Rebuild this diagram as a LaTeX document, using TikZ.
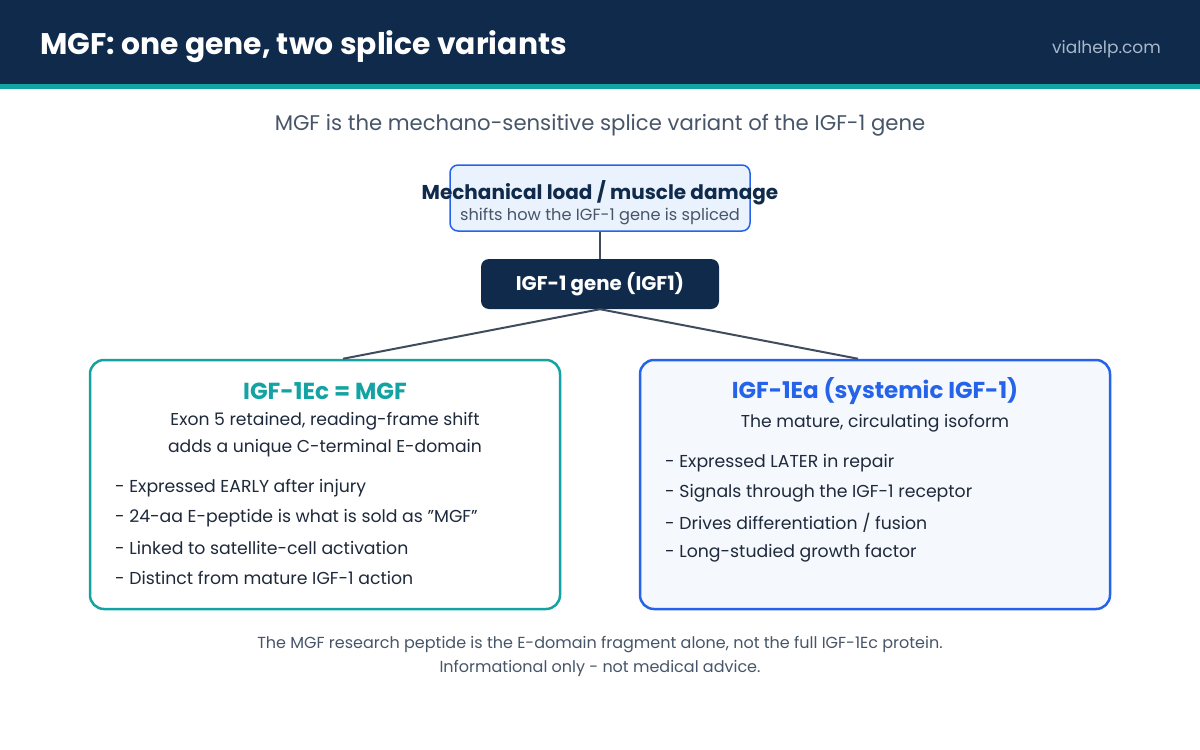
\documentclass[tikz,border=0pt]{standalone}
\usepackage{fontspec}
\setmainfont{Poppins}
\usetikzlibrary{calc}
\definecolor{navy}{HTML}{0F2A4A}
\definecolor{teal}{HTML}{14A3A3}
\definecolor{blu}{HTML}{2563EB}
\definecolor{slate}{HTML}{475569}
\definecolor{ink}{HTML}{1E293B}
\definecolor{lightblu}{HTML}{EAF2FD}
\definecolor{paleblu}{HTML}{F5F9FD}
\definecolor{urlgray}{HTML}{A9B8CB}
\tikzset{
  box/.style={draw, rounded corners=#1, inner sep=0pt},
  txt/.style={inner sep=0pt, anchor=center},
  bullet/.style={inner sep=0pt, anchor=west, text=ink, font=\fontsize{17.3}{20}\selectfont},
  conn/.style={draw=slate!90!black, line width=2pt},
}
\begin{document}
\begin{tikzpicture}[x=1pt,y=-1pt]
\useasboundingbox (0,0) rectangle (1200,750);
\fill[white] (0,0) rectangle (1200,750);
% header
\fill[navy] (0,0) rectangle (1200,84);
\fill[teal] (0,84) rectangle (1200,89);
\node[txt, anchor=west, text=white, font=\fontsize{29.8}{32}\selectfont\bfseries] (title) at (40,46.5) {MGF: one gene, two splice variants};
\node[txt, anchor=east, text=urlgray, font=\fontsize{17}{20}\selectfont] (url) at (1161,49) {vialhelp.com};
% subtitle
\node[txt, text=slate, font=\fontsize{21.2}{24}\selectfont] (sub) at (600,125) {MGF is the mechano-sensitive splice variant of the IGF-1 gene};
% top box
\node[box=8pt, draw=blu, line width=1.5pt, fill=lightblu, minimum width=300pt, minimum height=66pt] (load) at (600,198) {};
\node[txt, text=navy, font=\fontsize{20}{22}\selectfont\bfseries] (loadt) at (600,192.5) {Mechanical load / muscle damage};
\node[txt, text=slate, font=\fontsize{16.2}{18}\selectfont] (loads) at (600,216.5) {shifts how the IGF-1 gene is spliced};
% gene box
\node[box=8pt, draw=none, fill=navy, minimum width=238pt, minimum height=50pt, text=white, font=\fontsize{19.8}{22}\selectfont\bfseries] (gene) at (600,284) {IGF-1 gene (IGF1)};
% left box
\node[box=14pt, draw=teal, line width=2.5pt, fill=white, minimum width=470pt, minimum height=249pt] (left) at (325,484.5) {};
\node[txt, text=teal, font=\fontsize{23.2}{25}\selectfont\bfseries] (lt) at (325,391) {IGF-1Ec = MGF};
\node[txt, text=ink, font=\fontsize{17.2}{20}\selectfont] (ls1) at (325,421.5) {Exon 5 retained, reading-frame shift};
\node[txt, text=ink, font=\fontsize{17.2}{20}\selectfont] (ls2) at (325,448.5) {adds a unique C-terminal E-domain};
\node[bullet] (lb1) at (115,488) {- Expressed EARLY after injury};
\node[bullet] (lb2) at (115,518) {- 24-aa E-peptide is what is sold as \symbol{34}MGF\symbol{34}};
\node[bullet] (lb3) at (115,548) {- Linked to satellite-cell activation};
\node[bullet] (lb4) at (115,578) {- Distinct from mature IGF-1 action};
% right box
\node[box=14pt, draw=blu, line width=2.5pt, fill=paleblu, minimum width=470pt, minimum height=249pt] (right) at (875,484.5) {};
\node[txt, text=blu, font=\fontsize{23}{25}\selectfont\bfseries] (rt) at (875,391) {IGF-1Ea (systemic IGF-1)};
\node[txt, text=ink, font=\fontsize{17.2}{20}\selectfont] (rs1) at (875,423.5) {The mature, circulating isoform};
\node[bullet] (rb1) at (665,463) {- Expressed LATER in repair};
\node[bullet] (rb2) at (665,493) {- Signals through the IGF-1 receptor};
\node[bullet] (rb3) at (665,523) {- Drives differentiation / fusion};
\node[bullet] (rb4) at (665,553) {- Long-studied growth factor};
% connectors
\draw[conn] (load.south) -- (gene.north);
\draw[conn] (gene.south) -- ($(left.north)+(18,0)$);
\draw[conn] (gene.south) -- ($(right.north)+(-17,0)$);
% footer
\node[txt, text=slate, font=\fontsize{16}{19}\selectfont] (f1) at (600,644.5) {The MGF research peptide is the E-domain fragment alone, not the full IGF-1Ec protein.};
\node[txt, text=slate, font=\fontsize{16}{19}\selectfont] (f2) at (600,668.5) {Informational only - not medical advice.};
\end{tikzpicture}
\end{document}
